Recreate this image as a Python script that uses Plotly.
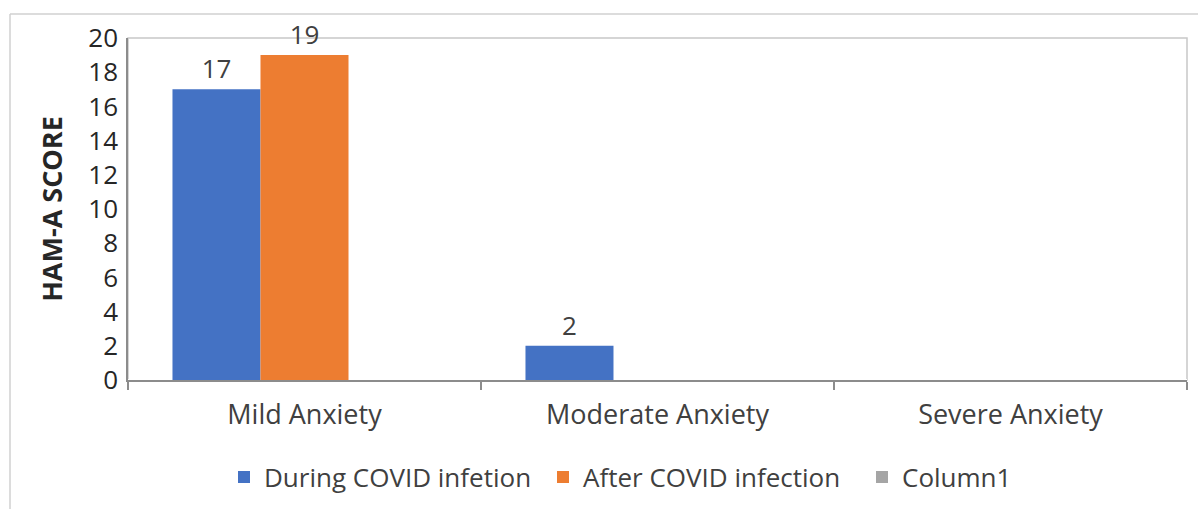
import plotly.graph_objects as go

categories = ["Mild Anxiety", "Moderate Anxiety", "Severe Anxiety"]
during = [17, 2, 0]
after = [19, 0, 0]
column1 = [0, 0, 0]
y_ticks = list(range(0, 21, 2))

FONT = "Open Sans"
TXT = "#404040"
FS = 26

def labels(vals):
    return [str(v) if v else "" for v in vals]

fig = go.Figure()
fig.add_trace(go.Bar(name="During COVID infetion", x=categories, y=during,
                     marker=dict(color="#4472C4", line=dict(width=0)),
                     text=labels(during), textposition="outside", cliponaxis=False,
                     textfont=dict(family=FONT, size=FS, color=TXT)))
fig.add_trace(go.Bar(name="After COVID infection", x=categories, y=after,
                     marker=dict(color="#ED7D31", line=dict(width=0)),
                     text=labels(after), textposition="outside", cliponaxis=False,
                     textfont=dict(family=FONT, size=FS, color=TXT)))
fig.add_trace(go.Bar(name="Column1", x=categories, y=column1,
                     marker=dict(color="#A5A5A5", line=dict(width=0))))

W, H = 1198, 509
L, R, T, B = 128, 11, 38, 129
pw, ph = W - L - R, H - T - B

fig.update_layout(
    width=W, height=H,
    margin=dict(l=L, r=R, t=T, b=B, pad=0, autoexpand=False),
    paper_bgcolor="white", plot_bgcolor="white",
    barmode="group", bargap=0.252, bargroupgap=0,
    font=dict(family=FONT, size=FS, color=TXT),
    showlegend=True,
    legend=dict(orientation="h", x=(224 - L) / pw, xanchor="left",
                y=-(477 - (H - B)) / ph, yanchor="middle",
                font=dict(family=FONT, size=FS, color=TXT), traceorder="normal",
                itemwidth=30, entrywidth=274, entrywidthmode="pixels"),
    xaxis=dict(type="category", showgrid=False, showline=True, linecolor="#8c8c8c",
               linewidth=1.5, mirror=False, ticks="outside", tickson="boundaries",
               ticklen=8, tickcolor="#8c8c8c", tickwidth=1.5, ticklabelstandoff=10,
               tickfont=dict(family=FONT, size=27, color=TXT)),
    yaxis=dict(range=[0, 20], tickvals=y_ticks, showgrid=False, showline=True,
               linecolor="#8c8c8c", linewidth=1.5, mirror=False, ticks="",
               ticklabelstandoff=3,
               tickfont=dict(family=FONT, size=FS, color="#262626"),
               title=dict(text="<b>HAM-A SCORE</b>", standoff=18,
                          font=dict(family=FONT, size=27, color="#262626"))),
    shapes=[
        dict(type="rect", xref="paper", yref="paper", x0=0, x1=1, y0=0, y1=1,
             layer="below", line=dict(color="#c8c8c8", width=1.5)),
        dict(type="line", xref="paper", yref="paper",
             x0=(10 - L) / pw, x1=(W + 5 - L) / pw,
             y0=1 + (T - 14) / ph, y1=1 + (T - 14) / ph,
             line=dict(color="#d0d0d0", width=1.5)),
        dict(type="line", xref="paper", yref="paper",
             x0=(10 - L) / pw, x1=(10 - L) / pw,
             y0=1 + (T - 14) / ph, y1=-(B + 5) / ph,
             line=dict(color="#d0d0d0", width=1.5)),
    ],
)

fig.write_html("out.html", config={"displayModeBar": False},
               post_script="document.body.style.margin='0';")
